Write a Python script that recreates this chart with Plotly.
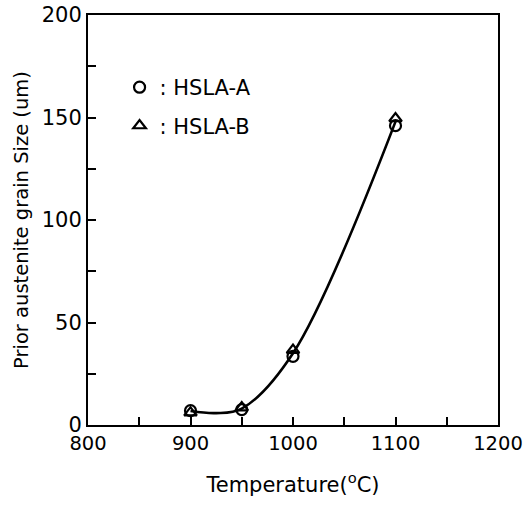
import plotly.graph_objects as go

temperature = [900, 950, 1000, 1100]
hsla_a = [7.0, 7.5, 33.5, 146.0]
hsla_b = [6.0, 8.5, 36.5, 149.5]
fit_temperature = [900, 925, 950, 1000, 1100]
fit_size = [6.8, 5.8, 8.0, 35.0, 148.0]

FONT = "DejaVu Sans"

fig = go.Figure()
fig.add_trace(go.Scatter(
    x=fit_temperature, y=fit_size, mode="lines",
    line=dict(color="black", width=2.6, shape="spline", smoothing=1.0),
    showlegend=False, hoverinfo="skip"))
fig.add_trace(go.Scatter(
    x=temperature, y=hsla_a, mode="markers", name=": HSLA-A",
    legendgroup="a",
    marker=dict(symbol="circle-open", size=11, color="black", line=dict(width=2.2))))
fig.add_trace(go.Scatter(
    x=temperature, y=hsla_b, mode="markers", name=": HSLA-B",
    legendgroup="b",
    marker=dict(symbol="triangle-up-open", size=11, color="black", line=dict(width=2.2))))

axis_common = dict(
    showline=True, linecolor="black", linewidth=2, mirror=True,
    ticks="inside", ticklen=8, tickwidth=2, tickcolor="black",
    showgrid=False, zeroline=False, automargin=False,
    ticklabeloverflow="allow",
)

fig.update_xaxes(
    range=[800, 1200], dtick=100, tick0=800,
    minor=dict(dtick=50, ticks="inside", ticklen=8, tickwidth=2, tickcolor="black"),
    tickfont=dict(family=FONT, size=19.5, color="black"),
    title=dict(text="Temperature(<sup>o</sup>C)", font=dict(family=FONT, size=21, color="black"), standoff=23),
    **axis_common)
fig.update_yaxes(
    range=[0, 200], dtick=50, tick0=0,
    minor=dict(dtick=25, ticks="inside", ticklen=8, tickwidth=2, tickcolor="black"),
    tickfont=dict(family=FONT, size=21, color="black"),
    title=dict(text="Prior austenite grain Size (um)", font=dict(family=FONT, size=19.5, color="black"), standoff=8),
    **axis_common)

fig.update_layout(
    width=523, height=505,
    margin=dict(l=88, r=25, t=15, b=80),
    paper_bgcolor="white", plot_bgcolor="white",
    font=dict(family=FONT, color="black"),
    legend=dict(x=0.077, y=0.873, xanchor="left", yanchor="top",
                bgcolor="rgba(0,0,0,0)", tracegroupgap=8,
                font=dict(family=FONT, size=21, color="black")),
)

fig.write_html("out.html",
               config={"displayModeBar": False},
               post_script="document.body.style.margin='0';document.body.style.overflow='hidden';")
